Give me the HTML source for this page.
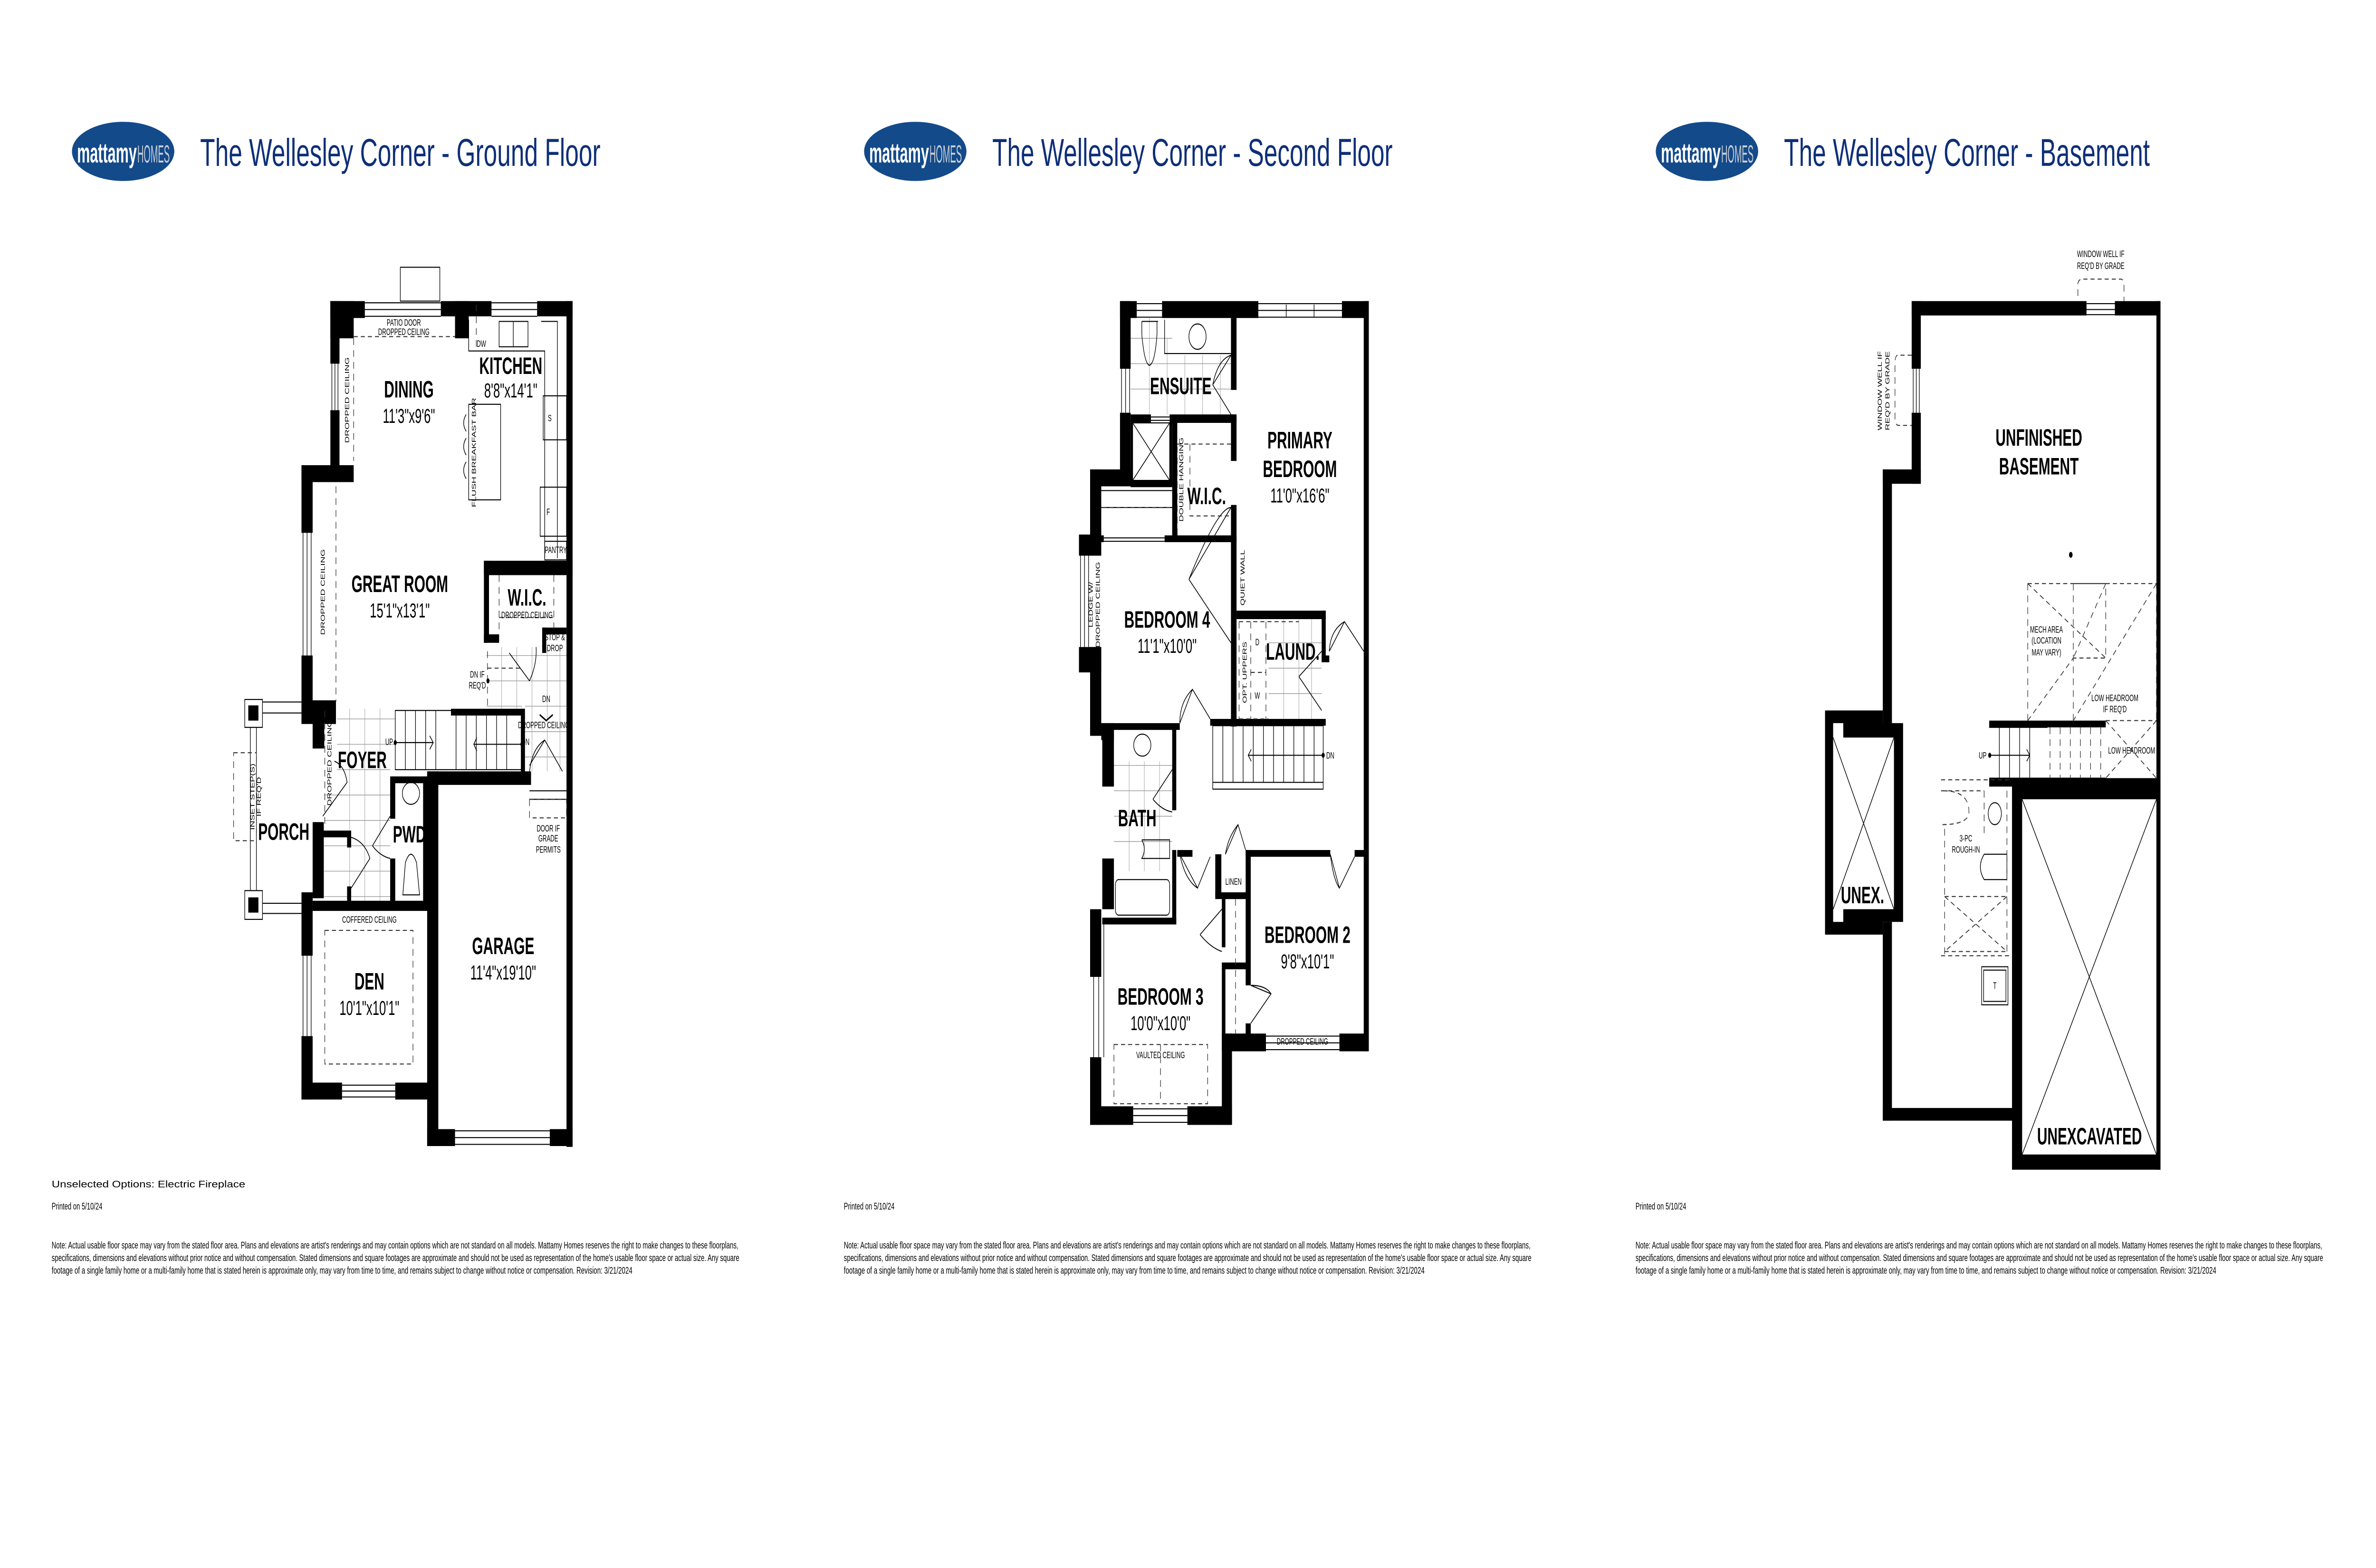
<!DOCTYPE html>
<html><head><meta charset="utf-8"><style>
html,body{margin:0;padding:0;background:#fff;width:100%;height:100%;overflow:hidden;}
#p{position:relative;width:100vw;height:100vh;overflow:hidden;background:#fff;}
svg{position:absolute;top:0;width:33.3334%;height:84.8485%;overflow:hidden;}
.w{fill:#000}
.t{fill:none;stroke:#000;stroke-width:1.2}
.g{fill:none;stroke:#999;stroke-width:0.8}
.d{fill:none;stroke:#333;stroke-width:1.2;stroke-dasharray:8 6}
.r{font-family:"Liberation Sans Narrow","Liberation Sans",sans-serif;font-weight:bold;font-size:28px;text-anchor:middle;fill:#000}
.m{font-family:"Liberation Sans Narrow","Liberation Sans",sans-serif;font-size:24px;text-anchor:middle;fill:#000}
.s{font-family:"Liberation Sans Narrow","Liberation Sans",sans-serif;font-size:11px;text-anchor:middle;fill:#000}
.h{font-family:"Liberation Sans",sans-serif;font-size:46px;fill:#0e2f78}
.n{font-family:"Liberation Sans",sans-serif;font-size:11.5px;fill:#000}
</style></head><body><div id="p">

<!-- ===== GROUND FLOOR ===== -->
<svg style="left:0" viewBox="0 0 1563 1573" preserveAspectRatio="none">
<ellipse cx="243" cy="179" rx="101" ry="35" fill="#134a8a"/>
<text x="152" y="192" font-family="Liberation Sans Narrow,Liberation Sans,sans-serif" font-weight="bold" font-size="33" fill="#fff" textLength="118" lengthAdjust="spacingAndGlyphs">mattamy</text>
<text x="271" y="192" font-family="Liberation Sans Narrow,Liberation Sans,sans-serif" font-size="29" fill="#c9ced6" textLength="64" lengthAdjust="spacingAndGlyphs">HOMES</text>
<text class="h" x="395" y="196" textLength="790" lengthAdjust="spacingAndGlyphs">The Wellesley Corner - Ground Floor</text>

<g class="g">
<path d="M665 850H780M665 880H780M665 910H770M640 940H770M640 970H770M640 1000H770M640 1030H770M640 1060H770M690 838V1065M720 838V1065M750 838V1065"/>
<path d="M960 775H1118M960 805H1118M960 835H1030M1036 835H1118M1036 865H1118M1036 895H1118M990 765V838M1020 765V838M1050 765V912M1080 765V912M1105 765V912"/>
</g>
<rect class="w" x="652" y="356" width="68" height="20"/><rect class="w" x="652" y="356" width="46" height="44"/>
<rect class="w" x="870" y="356" width="100" height="18"/><rect class="w" x="898" y="356" width="27" height="44"/>
<rect class="w" x="1060" y="356" width="70" height="18"/>
<rect class="w" x="1118" y="356" width="12" height="1000"/>
<rect class="w" x="652" y="356" width="18" height="74"/><rect class="w" x="652" y="485" width="18" height="66"/>
<rect class="w" x="595" y="550" width="103" height="20"/>
<rect class="w" x="595" y="550" width="22" height="80"/><rect class="w" x="595" y="775" width="22" height="80"/>
<rect class="w" x="595" y="828" width="68" height="28"/><rect class="w" x="617" y="855" width="23" height="30"/>
<rect class="w" x="617" y="972" width="22" height="90"/>
<rect class="w" x="595" y="1055" width="22" height="75"/><rect class="w" x="595" y="1225" width="22" height="75"/>
<rect class="w" x="595" y="1280" width="80" height="20"/><rect class="w" x="780" y="1280" width="65" height="20"/>
<rect class="w" x="617" y="1065" width="228" height="12"/>
<rect class="w" x="637" y="982" width="56" height="8"/><rect class="w" x="685" y="982" width="8" height="20"/><rect class="w" x="685" y="1048" width="8" height="20"/>
<rect class="w" x="770" y="918" width="10" height="50"/><rect class="w" x="770" y="1015" width="10" height="55"/>
<rect class="w" x="776" y="918" width="70" height="8"/><rect class="w" x="835" y="918" width="10" height="150"/>
<rect class="w" x="843" y="912" width="22" height="443"/>
<rect class="w" x="843" y="912" width="205" height="16"/>
<rect class="w" x="843" y="1335" width="55" height="20"/><rect class="w" x="1085" y="1335" width="45" height="20"/>
<rect class="w" x="890" y="838" width="145" height="8"/><rect class="w" x="1028" y="838" width="8" height="75"/>
<rect class="w" x="955" y="663" width="175" height="17"/><rect class="w" x="955" y="663" width="10" height="97"/><rect class="w" x="955" y="750" width="30" height="10"/>
<rect class="w" x="1070" y="742" width="48" height="8"/><rect class="w" x="1070" y="742" width="8" height="30"/>
<g class="t">
<path d="M720 358H870M720 366H870M720 374H870M970 358H1060M970 366H1060M970 374H1060"/>
<path d="M655 430V485M661 430V485M667 430V485M598 630V775M606 630V775M614 630V775M598 1130V1225M606 1130V1225M614 1130V1225"/>
<path d="M675 1283H780M675 1290H780M675 1297H780M898 1337H1085M898 1345H1085M898 1353H1085"/>
<rect x="790" y="316" width="78" height="40"/>
<rect x="925" y="478" width="63" height="113"/>
<path d="M925 378V415H1075V660M1068 380H1100V660M985 380H1042V410H985Z M1013 380V410"/>
<rect x="1072" y="468" width="46" height="52"/><rect x="1066" y="576" width="52" height="58"/><rect x="1075" y="640" width="43" height="22"/>
<path d="M920 490q-10 10 0 20M920 518q-10 10 0 20M920 546q-10 10 0 20"/>
<rect x="780" y="840" width="250" height="70"/>
<path d="M800 840V910M820 840V910M840 840V910M860 840V910M900 846V910M920 846V910M940 846V910M960 846V910M980 846V910M1000 846V910M780 878H855M1030 880H935M848 870L855 878L848 886M941 872L935 880L941 888"/>
<path d="M1005 772L1045 805M1045 805Q1060 785 1058 765"/>
<path d="M1045 905L1075 875L1110 912M1045 912Q1050 885 1075 875"/>
<path d="M637 965L685 925Q680 905 660 900"/>
<path d="M735 1000L770 965M735 1000Q750 1012 770 1015"/>
<path d="M693 1050L730 1015Q720 995 693 990"/>
<rect x="483" y="827" width="35" height="33"/><rect x="483" y="1053" width="35" height="34"/>
<path d="M518 830H595M518 843H595M518 1068H595M518 1080H595M494 860V1053M506 860V1053"/>
<ellipse cx="811" cy="938" rx="17" ry="13"/><path d="M795 1058L800 1020Q811 1000 822 1020L828 1058Z"/>
<path d="M1045 935H1118M1045 945H1118"/>
</g>
<rect x="490" y="834" width="20" height="18" class="w"/><rect x="490" y="1061" width="20" height="18" class="w"/>
<g class="d">
<path d="M698 398H898M698 400V545M663 575V830M641 840V975M940 360V410"/>
<rect x="641" y="1100" width="174" height="158"/>
<rect x="461" y="890" width="45" height="104"/>
<rect x="1045" y="945" width="73" height="22"/>
<path d="M985 680V745M985 730H1093M1093 680V745M962 790H1030M962 770V835"/>
</g>
<circle cx="963" cy="805" r="3"/><circle cx="780" cy="878" r="3"/><circle cx="1030" cy="880" r="3"/>
<path d="M1065 845L1078 852L1091 845" fill="none" stroke="#000" stroke-width="2"/>

<text class="r" x="807" y="470">DINING</text><text class="m" x="807" y="500">11'3"x9'6"</text>
<text class="r" x="1008" y="442">KITCHEN</text><text class="m" x="1008" y="470">8'8"x14'1"</text>
<text class="r" x="789" y="700">GREAT ROOM</text><text class="m" x="789" y="730">15'1"x13'1"</text>
<text class="r" x="1040" y="716" font-size="22">W.I.C.</text><text class="s" x="1040" y="731">DROPPED CEILING</text>
<text class="r" x="715" y="908">FOYER</text><text class="r" x="808" y="996">PWD</text>
<text class="r" x="560" y="993">PORCH</text>
<text class="r" x="993" y="1128">GARAGE</text><text class="m" x="993" y="1158">11'4"x19'10"</text>
<text class="r" x="729" y="1170">DEN</text><text class="m" x="729" y="1200">10'1"x10'1"</text>
<text class="s" x="797" y="385">PATIO DOOR</text><text class="s" x="797" y="396">DROPPED CEILING</text>
<text class="s" x="950" y="410">DW</text><text class="s" x="1085" y="498">S</text><text class="s" x="1082" y="609">F</text><text class="s" x="1097" y="654">PANTRY</text>
<text class="s" x="729" y="1091">COFFERED CEILING</text>
<text class="s" x="1082" y="983">DOOR IF</text><text class="s" x="1082" y="995">GRADE</text><text class="s" x="1082" y="1008">PERMITS</text>
<text class="s" x="942" y="801">DN IF</text><text class="s" x="942" y="814">REQ'D</text>
<text class="s" x="1095" y="757">STOP &amp;</text><text class="s" x="1095" y="770">DROP</text>
<text class="s" x="1078" y="830">DN</text><text class="s" x="1073" y="861">DROPPED CEILING</text>
<text class="s" x="768" y="881">UP</text><text class="s" x="1037" y="881">DN</text>
<text class="s" transform="translate(689,473) rotate(-90)">DROPPED CEILING</text>
<text class="s" transform="translate(939,535) rotate(-90)">FLUSH BREAKFAST BAR</text>
<text class="s" transform="translate(641,700) rotate(-90)">DROPPED CEILING</text>
<text class="s" transform="translate(654,902) rotate(-90)">DROPPED CEILING</text>
<text class="s" transform="translate(502,942) rotate(-90)">INSET STEP(S)</text>
<text class="s" transform="translate(515,942) rotate(-90)">IF REQ'D</text>

<text class="n" x="102" y="1404" font-size="21" textLength="382" lengthAdjust="spacingAndGlyphs">Unselected Options: Electric Fireplace</text>
<text class="n" x="102" y="1430" textLength="100" lengthAdjust="spacingAndGlyphs">Printed on 5/10/24</text>
<text class="n" x="102" y="1476" textLength="1355" lengthAdjust="spacingAndGlyphs">Note: Actual usable floor space may vary from the stated floor area. Plans and elevations are artist's renderings and may contain options which are not standard on all models. Mattamy Homes reserves the right to make changes to these floorplans,</text>
<text class="n" x="102" y="1491" textLength="1357" lengthAdjust="spacingAndGlyphs">specifications, dimensions and elevations without prior notice and without compensation. Stated dimensions and square footages are approximate and should not be used as representation of the home's usable floor space or actual size. Any square</text>
<text class="n" x="102" y="1506" textLength="1146" lengthAdjust="spacingAndGlyphs">footage of a single family home or a multi-family home that is stated herein is approximate only, may vary from time to time, and remains subject to change without notice or compensation. Revision: 3/21/2024</text>
</svg>

<!-- ===== SECOND FLOOR ===== -->
<svg style="left:33.3333%" viewBox="0 0 1563 1573" preserveAspectRatio="none">
<ellipse cx="243" cy="179" rx="101" ry="35" fill="#134a8a"/>
<text x="152" y="192" font-family="Liberation Sans Narrow,Liberation Sans,sans-serif" font-weight="bold" font-size="33" fill="#fff" textLength="118" lengthAdjust="spacingAndGlyphs">mattamy</text>
<text x="271" y="192" font-family="Liberation Sans Narrow,Liberation Sans,sans-serif" font-size="29" fill="#c9ced6" textLength="64" lengthAdjust="spacingAndGlyphs">HOMES</text>
<text class="h" x="395" y="196" textLength="790" lengthAdjust="spacingAndGlyphs">The Wellesley Corner - Second Floor</text>

<g class="g">
<path d="M668 400H750M668 430H866M668 460H866M705 376V490M740 400V490M775 420V490M810 420V490M845 420V490"/>
<path d="M635 905H750M635 935H750M635 965H750M635 995H750M665 900V1030M695 900V1030M725 900V1030"/>
<path d="M940 760H1045M940 790H1045M940 820H1045M970 732V850M1000 732V850M1025 732V850"/>
</g>
<rect class="w" x="647" y="356" width="33" height="20"/><rect class="w" x="730" y="356" width="190" height="20"/><rect class="w" x="1085" y="356" width="53" height="20"/>
<rect class="w" x="1128" y="356" width="10" height="887"/>
<rect class="w" x="647" y="356" width="21" height="80"/><rect class="w" x="647" y="488" width="21" height="87"/>
<rect class="w" x="588" y="555" width="80" height="20"/>
<rect class="w" x="588" y="555" width="22" height="85"/>
<rect class="w" x="566" y="632" width="44" height="25"/><rect class="w" x="566" y="765" width="44" height="30"/>
<rect class="w" x="588" y="765" width="22" height="105"/>
<rect class="w" x="610" y="855" width="25" height="20"/><rect class="w" x="612" y="855" width="23" height="75"/>
<rect class="w" x="612" y="1015" width="23" height="60"/>
<rect class="w" x="588" y="1075" width="22" height="80"/><rect class="w" x="588" y="1250" width="22" height="80"/>
<rect class="w" x="588" y="1308" width="85" height="22"/><rect class="w" x="780" y="1308" width="88" height="22"/>
<rect class="w" x="848" y="1222" width="20" height="108"/>
<rect class="w" x="848" y="1222" width="87" height="21"/><rect class="w" x="1080" y="1222" width="58" height="21"/>
<rect class="w" x="866" y="376" width="11" height="85"/><rect class="w" x="866" y="490" width="11" height="55"/><rect class="w" x="866" y="597" width="11" height="262"/>
<rect class="w" x="668" y="490" width="40" height="10"/><rect class="w" x="745" y="490" width="132" height="10"/>
<rect class="w" x="668" y="500" width="4" height="75"/><rect class="w" x="745" y="500" width="5" height="75"/><rect class="w" x="668" y="568" width="82" height="8"/>
<rect class="w" x="750" y="500" width="10" height="140"/>
<rect class="w" x="600" y="633" width="15" height="8"/><rect class="w" x="735" y="633" width="142" height="8"/>
<rect class="w" x="877" y="722" width="176" height="10"/><rect class="w" x="1045" y="722" width="8" height="60"/><rect class="w" x="1045" y="775" width="15" height="8"/>
<rect class="w" x="825" y="850" width="228" height="8"/>
<rect class="w" x="610" y="855" width="155" height="8"/>
<rect class="w" x="750" y="858" width="8" height="100"/><rect class="w" x="750" y="1005" width="8" height="88"/>
<rect class="w" x="612" y="1085" width="146" height="8"/>
<rect class="w" x="760" y="1005" width="30" height="8"/>
<rect class="w" x="895" y="1005" width="167" height="8"/><rect class="w" x="1110" y="1005" width="20" height="8"/>
<rect class="w" x="895" y="1005" width="10" height="160"/><rect class="w" x="895" y="1210" width="10" height="15"/>
<rect class="w" x="835" y="1010" width="12" height="50"/><rect class="w" x="835" y="1055" width="65" height="8"/>
<rect class="w" x="848" y="1060" width="7" height="60"/><rect class="w" x="848" y="1138" width="55" height="8"/><rect class="w" x="848" y="1145" width="7" height="80"/>
<g class="t">
<path d="M680 359H730M680 367H730M680 375H730M920 359H1085M920 367H1085M920 375H1085M975 360V375M1030 360V375"/>
<path d="M650 436V488M658 436V488M666 436V488M569 657V765M577 657V765M585 657V765"/>
<path d="M615 1093V1250M605 1093V1250M595 1093V1250M673 1311H780M673 1319H780M673 1327H780M935 1225H1080M935 1233H1080M935 1241H1080"/>
<path d="M708 493H745M708 497H745M615 636H735M615 640H735"/>
<rect x="672" y="500" width="73" height="68"/><path d="M672 500L745 568M745 500L672 568"/>
<path d="M610 580H750M610 600H750"/>
<path d="M690 380H722M690 380V395Q695 430 705 432Q716 430 720 395V380"/>
<ellipse cx="800" cy="398" rx="17" ry="15"/><path d="M735 378V418H866"/>
<ellipse cx="691" cy="881" rx="17" ry="13"/><path d="M690 993H745V1015H690Q700 1004 690 993"/>
<rect x="638" y="1040" width="107" height="42" rx="6"/>
<rect x="830" y="858" width="218" height="75"/>
<path d="M850 858V925M870 858V925M890 858V925M910 858V925M930 858V925M950 858V925M970 858V925M990 858V925M1010 858V925M1030 858V925M830 925H1048M1048 893H900M906 886L900 893L906 900"/>
<path d="M830 455L866 420Q840 425 830 455M830 455L866 490"/>
<path d="M783 685L866 600Q840 600 783 685M783 685L866 760"/>
<path d="M1060 770L1090 735L1128 770M1060 770Q1062 745 1090 735"/>
<path d="M1000 800L1045 770M1000 800L1045 840"/>
<path d="M765 855L790 815L825 850M765 855Q765 830 790 815"/>
<path d="M712 945L750 910M712 945Q730 958 750 960"/>
<path d="M765 1010L800 1050L825 1013M765 1010Q775 1040 800 1050"/>
<path d="M855 1010L880 975L895 1005M855 1010Q860 990 880 975"/>
<path d="M805 1105L848 1075M805 1105Q825 1120 848 1125"/>
<path d="M905 1165L945 1175L905 1210M905 1165Q935 1165 945 1175"/>
<path d="M1062 1010L1080 1050L1110 1013M1062 1010Q1068 1040 1080 1050"/>
</g>
<circle cx="1048" cy="893" r="3"/>
<g class="d">
<path d="M760 525H866M785 525V610H866M760 633V528M612 600H750"/>
<path d="M882 735V850M882 735H1000M882 850H940M935 735V850M905 795H935M905 735V850"/>
<rect x="635" y="1235" width="185" height="70"/><path d="M727 1235V1305"/>
<path d="M875 1063V1222"/>
</g>

<text class="r" x="767" y="466">ENSUITE</text>
<text class="r" x="1002" y="530">PRIMARY</text><text class="r" x="1002" y="564">BEDROOM</text><text class="m" x="1002" y="594">11'0"x16'6"</text>
<text class="r" x="818" y="596" font-size="24">W.I.C.</text>
<text class="r" x="740" y="742">BEDROOM 4</text><text class="m" x="740" y="772">11'1"x10'0"</text>
<text class="r" x="988" y="780">LAUND.</text>
<text class="r" x="681" y="977">BATH</text>
<text class="r" x="1017" y="1115">BEDROOM 2</text><text class="m" x="1017" y="1145">9'8"x10'1"</text>
<text class="r" x="727" y="1188">BEDROOM 3</text><text class="m" x="727" y="1218">10'0"x10'0"</text>
<text class="s" x="727" y="1251">VAULTED CEILING</text><text class="s" x="1007" y="1235">DROPPED CEILING</text>
<text class="s" x="871" y="1046">LINEN</text><text class="s" x="1062" y="897">DN</text>
<text class="s" x="918" y="763">D</text><text class="s" x="918" y="826">W</text>
<text class="s" transform="translate(893,683) rotate(-90)">QUIET WALL</text>
<text class="s" transform="translate(772,567) rotate(-90)">DOUBLE HANGING</text>
<text class="s" transform="translate(593,715) rotate(-90)">LEDGE W/</text>
<text class="s" transform="translate(607,715) rotate(-90)">DROPPED CEILING</text>
<text class="s" transform="translate(897,795) rotate(-90)">OPT. UPPERS</text>

<text class="n" x="102" y="1430" textLength="100" lengthAdjust="spacingAndGlyphs">Printed on 5/10/24</text>
<text class="n" x="102" y="1476" textLength="1355" lengthAdjust="spacingAndGlyphs">Note: Actual usable floor space may vary from the stated floor area. Plans and elevations are artist's renderings and may contain options which are not standard on all models. Mattamy Homes reserves the right to make changes to these floorplans,</text>
<text class="n" x="102" y="1491" textLength="1357" lengthAdjust="spacingAndGlyphs">specifications, dimensions and elevations without prior notice and without compensation. Stated dimensions and square footages are approximate and should not be used as representation of the home's usable floor space or actual size. Any square</text>
<text class="n" x="102" y="1506" textLength="1146" lengthAdjust="spacingAndGlyphs">footage of a single family home or a multi-family home that is stated herein is approximate only, may vary from time to time, and remains subject to change without notice or compensation. Revision: 3/21/2024</text>
</svg>

<!-- ===== BASEMENT ===== -->
<svg style="left:66.6667%" viewBox="0 0 1563 1573" preserveAspectRatio="none">
<ellipse cx="243" cy="179" rx="101" ry="35" fill="#134a8a"/>
<text x="152" y="192" font-family="Liberation Sans Narrow,Liberation Sans,sans-serif" font-weight="bold" font-size="33" fill="#fff" textLength="118" lengthAdjust="spacingAndGlyphs">mattamy</text>
<text x="271" y="192" font-family="Liberation Sans Narrow,Liberation Sans,sans-serif" font-size="29" fill="#c9ced6" textLength="64" lengthAdjust="spacingAndGlyphs">HOMES</text>
<text class="h" x="395" y="196" textLength="722" lengthAdjust="spacingAndGlyphs">The Wellesley Corner - Basement</text>

<rect class="w" x="647" y="356" width="345" height="17"/><rect class="w" x="1048" y="356" width="90" height="17"/>
<rect class="w" x="1130" y="356" width="8" height="1027"/>
<rect class="w" x="647" y="356" width="18" height="80"/><rect class="w" x="647" y="488" width="18" height="84"/>
<rect class="w" x="590" y="555" width="75" height="17"/>
<rect class="w" x="590" y="555" width="18" height="303"/>
<path class="w" d="M476 840H590V855H630V1090H590V1105H476ZM492 855V1090H512V1075H612V872H512V855Z" fill-rule="evenodd"/>
<rect class="w" x="590" y="1090" width="18" height="235"/>
<rect class="w" x="590" y="1310" width="270" height="15"/>
<path class="w" d="M845 920H1138V1383H845ZM865 945V1365H1130V945Z" fill-rule="evenodd"/>
<rect class="w" x="800" y="852" width="230" height="8"/>
<rect class="w" x="800" y="920" width="45" height="10"/>
<g class="t">
<path d="M992 359H1048M992 366H1048M992 372H1048M650 436V488M656 436V488M662 436V488"/>
<path d="M492 872L612 1075M612 872L492 1075M865 945L1130 1365M1130 945L865 1365"/>
<path d="M800 860H915M800 920H1030M820 860V920M840 860V920M860 860V920M880 860V920M800 893H880M874 886L880 893L874 900"/>
<circle cx="811" cy="962" r="13"/><path d="M835 1010H790Q775 1025 790 1040H835Z"/>
<rect x="785" y="1143" width="52" height="45"/><rect x="789" y="1147" width="44" height="37"/>
</g>
<g class="d">
<path d="M975 350V336Q975 330 985 330H1060Q1066 330 1066 340V356"/>
<path d="M647 420H620Q614 420 614 430V495Q614 503 622 503H647"/>
<path d="M876 690H1130V852M876 690V852M966 690V852M966 690H1030V778H966M876 690L1030 778M1130 690L966 852M1030 690L966 778M876 852L966 778M1030 852H1130M1030 852L1130 920M1130 852L1030 920M920 860V920M940 860V920M960 860V920M980 860V920M1000 860V920M1020 860V920"/>
<path d="M705 922H845M705 935H790M790 935V990M835 935V1130M712 980V1130M712 1060H835M712 1125H835M712 1060L835 1125M835 1060L712 1125M705 1130H845M710 935Q760 935 760 960Q760 975 705 975"/>
</g>
<circle cx="961" cy="656" r="3.5"/><circle cx="801" cy="893" r="3"/>

<text class="r" x="898" y="527">UNFINISHED</text><text class="r" x="898" y="561">BASEMENT</text>
<text class="r" x="550" y="1068">UNEX.</text>
<text class="r" x="998" y="1353">UNEXCAVATED</text>
<text class="s" x="1020" y="304">WINDOW WELL IF</text><text class="s" x="1020" y="318">REQ'D BY GRADE</text>
<text class="s" transform="translate(588,462) rotate(-90)">WINDOW WELL IF</text>
<text class="s" transform="translate(603,462) rotate(-90)">REQ'D BY GRADE</text>
<text class="s" x="913" y="748">MECH AREA</text><text class="s" x="913" y="761">(LOCATION</text><text class="s" x="913" y="775">MAY VARY)</text>
<text class="s" x="1048" y="829">LOW HEADROOM</text><text class="s" x="1048" y="842">IF REQ'D</text>
<text class="s" x="1081" y="891">LOW HEADROOM</text>
<text class="s" x="787" y="897">UP</text>
<text class="s" x="754" y="995">3-PC</text><text class="s" x="754" y="1008">ROUGH-IN</text>
<text class="s" x="811" y="1169">T</text>

<text class="n" x="102" y="1430" textLength="100" lengthAdjust="spacingAndGlyphs">Printed on 5/10/24</text>
<text class="n" x="102" y="1476" textLength="1355" lengthAdjust="spacingAndGlyphs">Note: Actual usable floor space may vary from the stated floor area. Plans and elevations are artist's renderings and may contain options which are not standard on all models. Mattamy Homes reserves the right to make changes to these floorplans,</text>
<text class="n" x="102" y="1491" textLength="1357" lengthAdjust="spacingAndGlyphs">specifications, dimensions and elevations without prior notice and without compensation. Stated dimensions and square footages are approximate and should not be used as representation of the home's usable floor space or actual size. Any square</text>
<text class="n" x="102" y="1506" textLength="1146" lengthAdjust="spacingAndGlyphs">footage of a single family home or a multi-family home that is stated herein is approximate only, may vary from time to time, and remains subject to change without notice or compensation. Revision: 3/21/2024</text>
</svg>

</div></body></html>
